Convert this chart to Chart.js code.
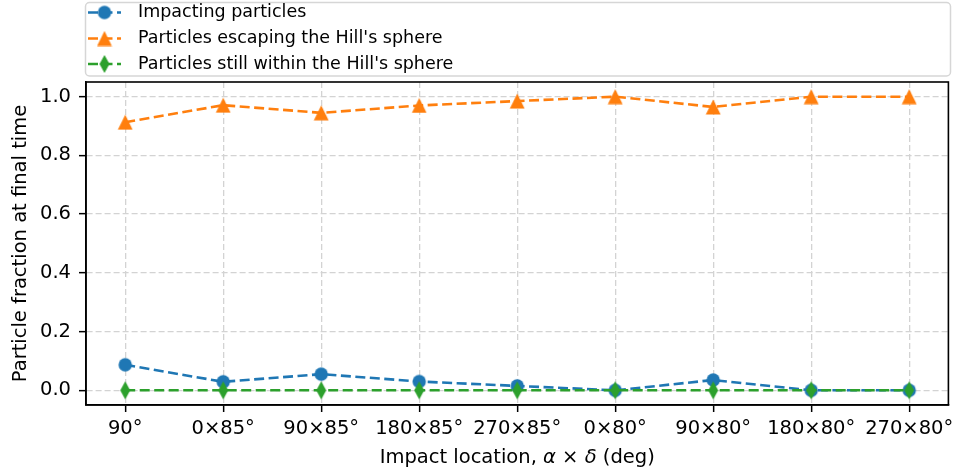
<!DOCTYPE html>
<html lang="en">
<head>
    <meta charset="UTF-8">
    <title>Particle fraction at final time</title>
    <script src="https://cdn.jsdelivr.net/npm/chart.js"></script>
    <style>
        html, body { margin: 0; padding: 0; background: #fff; }
        #chart { display: block; }
    </style>
</head>
<body>
    <canvas id="chart" width="958" height="471"></canvas>

    <script>
        // data
        const locations = ['90°', '0×85°', '90×85°', '180×85°', '270×85°', '0×80°', '90×80°', '180×80°', '270×80°'];
        const impacting = [0.087, 0.029, 0.055, 0.030, 0.015, 0.0, 0.035, 0.0, 0.0];
        const escaping = [0.913, 0.971, 0.945, 0.970, 0.985, 1.0, 0.965, 1.0, 1.0];
        const within = [0, 0, 0, 0, 0, 0, 0, 0, 0];
        const yTicks = [0, 0.2, 0.4, 0.6, 0.8, 1.0];

        const BLUE = '#1f77b4', ORANGE = '#ff7f0e', GREEN = '#2ca02c';
        const FONT = 'DejaVu Sans';

        // matplotlib-like markers as small canvases
        function marker(w, h, color, draw) {
            const c = document.createElement('canvas');
            c.width = w; c.height = h;
            const g = c.getContext('2d');
            g.fillStyle = color;
            g.beginPath();
            draw(g);
            g.closePath();
            g.fill();
            return c;
        }
        const circle = marker(16, 16, BLUE, g => g.arc(8, 8, 6.7, 0, Math.PI * 2));
        const triangle = marker(16, 16, ORANGE, g => { g.moveTo(8, 0.5); g.lineTo(15.4, 15.5); g.lineTo(0.6, 15.5); });
        const diamond = marker(12, 20, GREEN, g => { g.moveTo(6, 1); g.lineTo(11, 10); g.lineTo(6, 19); g.lineTo(1, 10); });

        const toXY = arr => arr.map((v, i) => ({ x: i, y: v }));

        function series(label, values, color, style, order) {
            return {
                label: label,
                data: toXY(values),
                borderColor: color,
                backgroundColor: color,
                borderWidth: 2.6,
                borderDash: [10, 4.5],
                pointStyle: style,
                pointRadius: 7,
                pointHoverRadius: 7,
                fill: false,
                tension: 0,
                order: order
            };
        }

        // legend box, top/right spines and the x label (italic greek letters)
        const extras = {
            id: 'extras',
            afterDraw(chart) {
                const ctx = chart.ctx;
                const a = chart.chartArea;
                ctx.save();
                ctx.strokeStyle = '#000';
                ctx.lineWidth = 1.6;
                ctx.strokeRect(a.left, a.top, a.right - a.left, a.bottom - a.top);

                // x label
                const parts = [
                    ['Impact location, ', ''],
                    ['α', 'italic '],
                    [' × ', ''],
                    ['δ', 'italic '],
                    [' (deg)', '']
                ];
                let total = 0;
                parts.forEach(p => {
                    ctx.font = p[1] + '19.5px "' + FONT + '"';
                    p.push(ctx.measureText(p[0]).width);
                    total += p[2];
                });
                let x = (a.left + a.right) / 2 - total / 2;
                ctx.fillStyle = '#000';
                ctx.textBaseline = 'middle';
                ctx.textAlign = 'left';
                parts.forEach(p => {
                    ctx.font = p[1] + '19.5px "' + FONT + '"';
                    ctx.fillText(p[0], x, 458);
                    x += p[2];
                });

                // legend
                ctx.fillStyle = 'rgba(255,255,255,0.8)';
                ctx.strokeStyle = '#d6d6d6';
                ctx.lineWidth = 1.5;
                ctx.beginPath();
                ctx.roundRect(85.5, 2.5, 865, 73.5, 4);
                ctx.fill();
                ctx.stroke();

                const items = [
                    ['Impacting particles', BLUE, circle, 12.5],
                    ["Particles escaping the Hill's sphere", ORANGE, triangle, 38.5],
                    ["Particles still within the Hill's sphere", GREEN, diamond, 64]
                ];
                items.forEach(([text, color, img, y]) => {
                    ctx.strokeStyle = color;
                    ctx.lineWidth = 2.6;
                    ctx.setLineDash([10, 4.5]);
                    ctx.beginPath();
                    ctx.moveTo(88, y);
                    ctx.lineTo(121, y);
                    ctx.stroke();
                    ctx.setLineDash([]);
                    ctx.drawImage(img, 104.5 - img.width / 2, y - img.height / 2);
                    ctx.fillStyle = '#000';
                    ctx.font = '17.5px "' + FONT + '"';
                    ctx.textBaseline = 'middle';
                    ctx.fillText(text, 138, y);
                });
                ctx.restore();
            }
        };

        const ctx = document.getElementById('chart').getContext('2d');
        new Chart(ctx, {
            type: 'line',
            data: {
                datasets: [
                    series('Impacting particles', impacting, BLUE, circle, 2),
                    series("Particles escaping the Hill's sphere", escaping, ORANGE, triangle, 1),
                    series("Particles still within the Hill's sphere", within, GREEN, diamond, 0)
                ]
            },
            options: {
                responsive: false,
                animation: false,
                devicePixelRatio: 1,
                layout: { padding: { top: 82, right: 6, left: 0, bottom: 0 } },
                plugins: {
                    legend: { display: false },
                    tooltip: { enabled: false }
                },
                scales: {
                    x: {
                        type: 'linear',
                        min: -0.4,
                        max: 8.4,
                        afterBuildTicks: s => { s.ticks = locations.map((_, i) => ({ value: i })); },
                        afterFit: s => { s.height = 66; s.paddingLeft = 0; s.paddingRight = 0; },
                        ticks: {
                            autoSkip: false,
                            maxRotation: 0,
                            padding: 5,
                            color: '#000',
                            font: { family: FONT, size: 19.5 },
                            callback: v => locations[v]
                        },
                        grid: { color: '#d3d3d3', lineWidth: 1.3, tickLength: 7, tickColor: '#000', tickWidth: 1.5 },
                        border: { display: true, color: '#000', width: 1.6, dash: [6, 3] }
                    },
                    y: {
                        min: -0.05,
                        max: 1.05,
                        afterBuildTicks: s => { s.ticks = yTicks.map(v => ({ value: v })); },
                        afterFit: s => { s.width = 86; s.paddingTop = 0; s.paddingBottom = 0; },
                        ticks: {
                            padding: 8,
                            color: '#000',
                            font: { family: FONT, size: 19.5 },
                            callback: v => v.toFixed(1)
                        },
                        grid: { color: '#d3d3d3', lineWidth: 1.3, tickLength: 7, tickColor: '#000', tickWidth: 1.5 },
                        border: { display: true, color: '#000', width: 1.6, dash: [6, 3] },
                        title: {
                            display: true,
                            text: 'Particle fraction at final time',
                            color: '#000',
                            font: { family: FONT, size: 19.5 },
                            padding: { top: 9, bottom: 0 }
                        }
                    }
                }
            },
            plugins: [extras]
        });
    </script>
</body>
</html>
